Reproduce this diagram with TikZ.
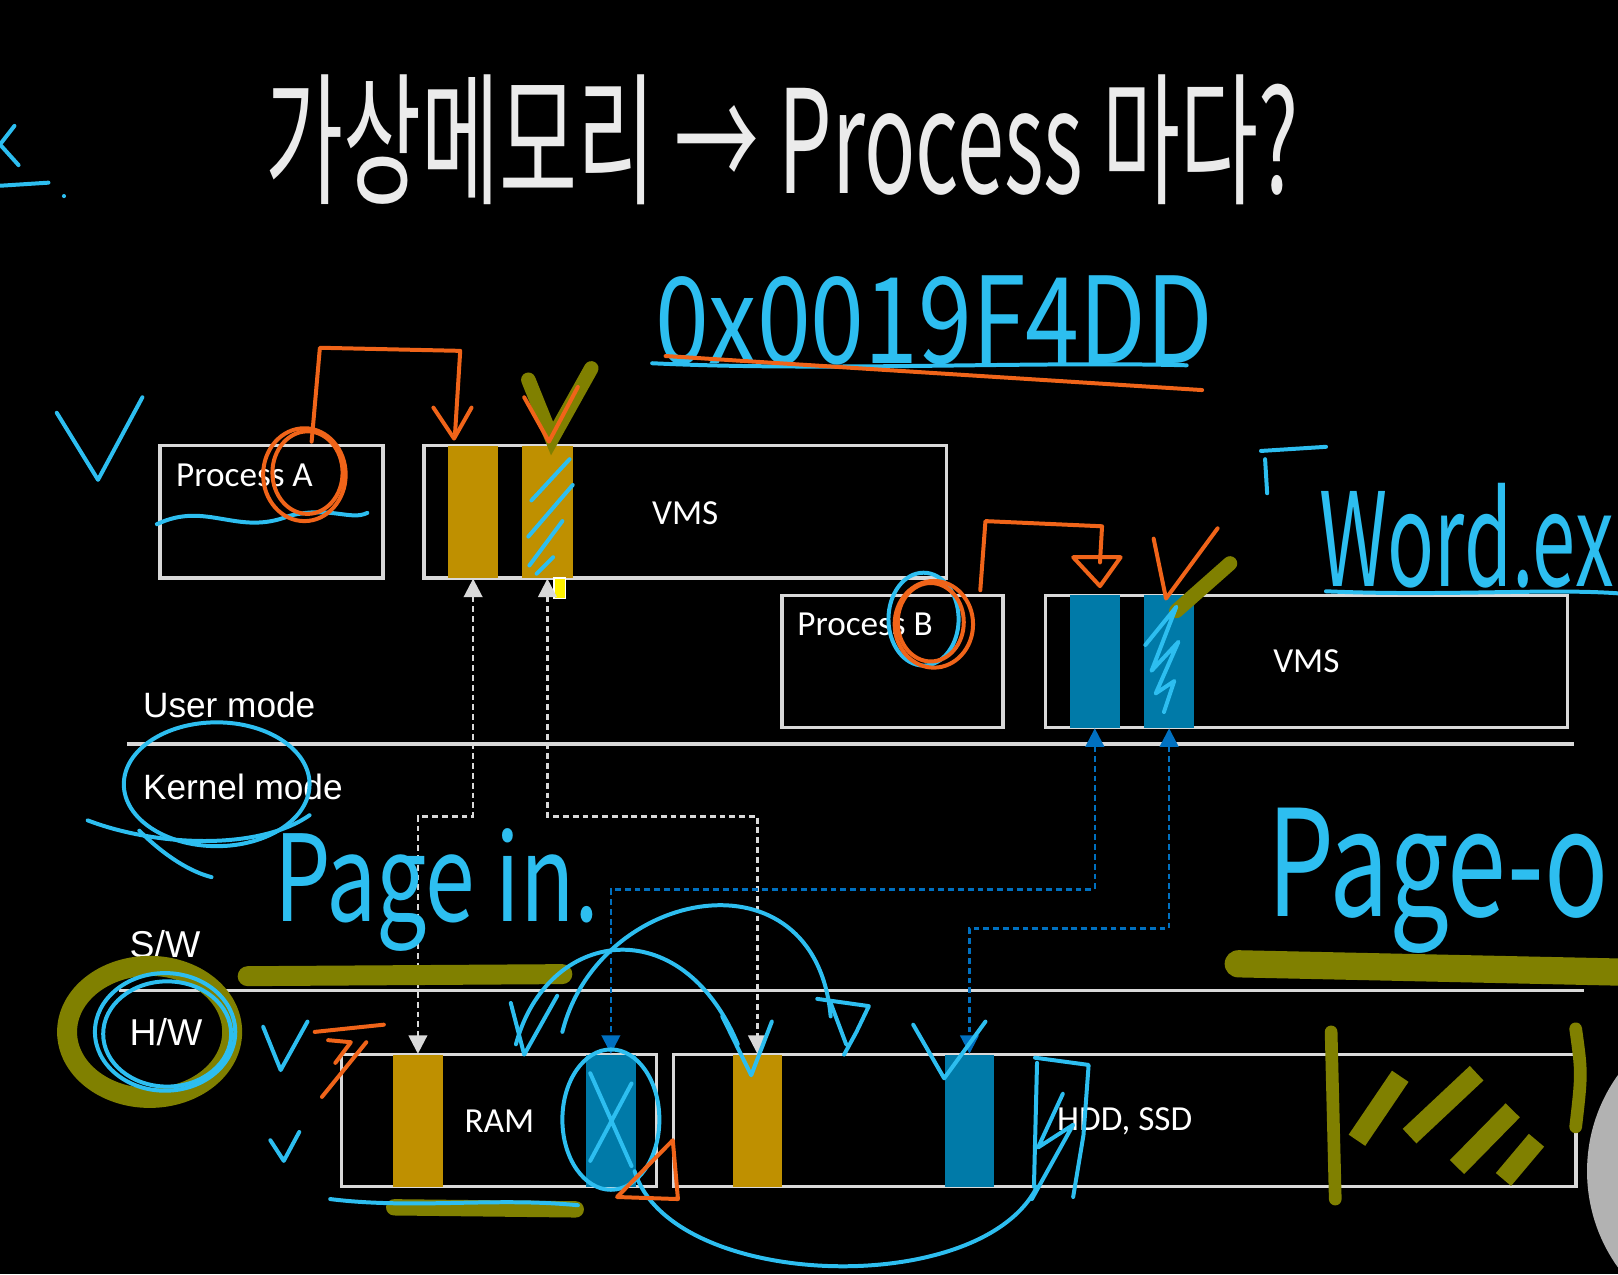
\documentclass[tikz,border=0pt]{standalone}
\usepackage{fontspec}
\setmainfont{Liberation Sans}
\newfontfamily\slidefont{Carlito}
\newfontfamily\handfont{Noto Sans CJK KR}
\usetikzlibrary{arrows.meta,positioning,calc}
\definecolor{slline}{RGB}{217,217,217}
\definecolor{slgold}{RGB}{191,144,0}
\definecolor{slblue}{RGB}{0,122,168}
\definecolor{sldash}{RGB}{0,112,192}
\definecolor{hdwhite}{RGB}{235,235,235}
\definecolor{hdcyan}{RGB}{45,190,240}
\definecolor{hdorange}{RGB}{240,100,25}
\definecolor{hdolive}{RGB}{128,128,0}
\tikzset{
  slbox/.style={draw=slline, line width=0.9pt, inner sep=0pt, minimum height=1.28cm},
  goldbar/.style={fill=slgold, inner sep=0pt, minimum width=0.49cm, minimum height=1.28cm},
  bluebar/.style={goldbar, fill=slblue},
  lbl/.style={text=white, font=\slidefont\fontsize{9.7}{11}\selectfont, inner sep=0pt},
  mode/.style={text=white, font=\fontsize{9.7}{11}\selectfont, inner sep=0pt, anchor=west},
  divider/.style={draw=slline, line width=0.9pt},
  warr/.style={{Triangle[length=1.8mm,width=1.8mm]}-{Triangle[length=1.8mm,width=1.8mm]},
    draw=slline, line width=0.7pt, dash pattern=on 1.6pt off 1.1pt},
  barr/.style={warr, draw=sldash},
  hand/.style={draw=hdcyan, line width=1.1pt, line cap=round, line join=round},
  ink/.style={hand, draw=hdorange},
  hl/.style={draw=hdolive, line width=5.5pt, line cap=round},
  htext/.style={inner sep=0pt, font=\handfont}
}

\begin{document}
\begin{tikzpicture}[x=0.01cm,y=-0.01cm]
  \useasboundingbox (0,0) rectangle (1568,1235);
  \fill[black] (0,0) rectangle (1568,1235);
  \fill[gray!60] (1698,1135) circle (160);

  % User mode: processes and their VMS
  \node[slbox, minimum width=2.16cm] (procA) at (263,496) {};
  \node[slbox, minimum width=5.06cm] (vmsA) at (664,496) {};
  \node[goldbar] (a1) at (458.5,496) {};
  \node[goldbar] (a2) at (530.5,496) {};
  \node[lbl, anchor=west] (procAtxt) at (170,461) {Process A};
  \node[lbl] (vmsAtxt) at (664,497) {VMS};

  \node[slbox, minimum width=2.14cm] (procB) at (865,641) {};
  \node[slbox, minimum width=5.06cm] (vmsB) at (1266,641) {};
  \node[bluebar] (b1) at (1061,641) {};
  \node[bluebar] (b2) at (1133,641) {};
  \node[lbl, anchor=west] (procBtxt) at (772,605) {Process B};
  \node[lbl] (vmsBtxt) at (1266,641) {VMS};

  \node[draw=white, fill=yellow, line width=0.5pt, inner sep=0pt,
    minimum width=0.11cm, minimum height=0.2cm] (cursor) at (542.5,570) {};

  % mode lines
  \draw[divider] (123,721) -- (1525,721);
  \draw[divider] (115,960) -- (1535,960);
  \node[mode] (user) at (138,683) {User mode};
  \node[mode] (kernel) at (138,763) {Kernel mode};
  \node[mode, font=\fontsize{10.3}{12}\selectfont] (sw) at (125,915) {S/W};
  \node[mode, font=\fontsize{10.3}{12}\selectfont] (hw) at (125,1000) {H/W};

  % H/W: RAM and disk
  \node[slbox, minimum width=3.05cm] (ram) at (483.5,1086) {};
  \node[slbox, minimum width=8.74cm] (hdd) at (1090,1086) {};
  \node[goldbar, minimum width=0.48cm] (rg) at (405,1086) {};
  \node[bluebar, minimum width=0.48cm] (rb) at (592,1086) {};
  \node[goldbar, minimum width=0.48cm] (hg) at (734,1086) {};
  \node[bluebar, minimum width=0.47cm] (hb) at (939.5,1086) {};
  \node[lbl] (ramtxt) at (484,1087) {RAM};
  \node[lbl] (hddtxt) at (1090,1087) {HDD, SSD};

  \coordinate (lvA) at (0,791);
  \coordinate (lvB) at (0,862);
  \coordinate (lvC) at (0,900);
  \draw[warr] (a1.south) -- (a1.south |- lvA) -| (rg.north);
  \draw[warr] (a2.south) -- (a2.south |- lvA) -| (hg.north);
  \draw[barr] (b1.south) -- (b1.south |- lvB) -| (rb.north);
  \draw[barr] (b2.south) -- (b2.south |- lvC) -| (hb.north);

  % highlighter
  \draw[hl] (240,946) -- (545,944);
  \draw[hl, line width=7.5pt] (1200,934) -- (1568,942);
  \draw[hl] (145,1000) ellipse [x radius=80, y radius=64];
  \draw[hl, line width=4.5pt] (382,1170) -- (558,1172);
  \draw[hl, line width=4pt] (512,368) -- (535,425) -- (573,357);
  \draw[hl, line width=4pt] (1140,592) -- (1192,546);
  \draw[hl, line width=3.5pt] (1290,1000) -- (1294,1162);
  \draw[hl, line width=3.5pt] (1527,997) .. controls (1533,1040) .. (1527,1092);
  \draw[hl, line cap=butt] (1315,1105) -- (1357,1043);
  \draw[hl, line cap=butt] (1366,1101) -- (1431,1040);
  \draw[hl, line cap=butt] (1412,1131) -- (1466,1076);
  \draw[hl, line cap=butt] (1457,1143) -- (1489,1105);

  % handwriting
  \node[htext, text=hdwhite] (title) at (758,135)
    {\resizebox{10cm}{1.15cm}{가상메모리 → Process 마다?}};
  \node[htext, text=hdcyan] (hex) at (905,310)
    {\resizebox{5.4cm}{0.85cm}{0x0019F4DD}};
  \draw[hand] (632,352) .. controls (800,360) and (1000,350) .. (1150,354);
  \draw[ink] (645,345) -- (1165,378);
  \node[htext, text=hdcyan, anchor=base west] (word) at (1278,568)
    {\resizebox{2.85cm}{1.0cm}{Word.ex}};
  \draw[hand] (1285,573) .. controls (1400,578) and (1500,570) .. (1568,575);
  \draw[hand] (1222,437) -- (1285,433) (1226,445) -- (1228,478);
  \node[htext, text=hdcyan, anchor=base west] (pin) at (265,893)
    {\resizebox{3.15cm}{0.9cm}{Page in.}};
  \node[htext, text=hdcyan, anchor=base west] (pout) at (1228,888)
    {\resizebox{3.3cm}{1.05cm}{Page-o}};

  \draw[hand] (14,122) -- (0,140) -- (18,160);
  \draw[hand] (0,180) -- (47,177);
  \fill[hdcyan] (62,190) circle (2);
  \draw[hand] (55,400) -- (95,465) -- (138,385);
  \draw[hand] (152,508) .. controls (200,485) and (230,520) .. (280,500)
    .. controls (320,490) and (340,505) .. (356,497);
  \draw[hand] (513,548) -- (545,505) (512,520) -- (555,470)
    (515,485) -- (552,445) (520,556) -- (536,540);
  \draw[hand] (1110,625) -- (1140,588) -- (1116,650) -- (1142,622)
    -- (1120,672) -- (1138,660) -- (1128,690);
  \draw[hand] (895,600) ellipse [x radius=34, y radius=45];
  \draw[hand] (210,760) ellipse [x radius=90, y radius=60];
  \draw[hand] (85,795) .. controls (150,820) and (250,825) .. (300,790);
  \draw[hand] (135,805) .. controls (160,830) and (185,845) .. (205,850);
  \draw[hand] (160,1000) ellipse [x radius=68, y radius=57];
  \draw[hand] (162,1002) ellipse [x radius=62, y radius=51];
  \draw[hand] (255,995) -- (272,1037) -- (298,990);
  \draw[hand] (262,1105) -- (275,1125) -- (290,1097);
  \draw[hand] (320,1162) .. controls (400,1172) and (480,1160) .. (560,1168);
  \draw[hand] (592,1085) ellipse [x radius=47, y radius=68];
  \draw[hand] (572,1040) -- (612,1130) (612,1050) -- (572,1125);
  \draw[hand] (495,972) -- (508,1022) -- (540,965);
  \draw[hand] (545,1000) .. controls (580,860) and (790,820) .. (805,985);
  \draw[hand] (500,1012) .. controls (530,900) and (660,880) .. (715,1012);
  \draw[hand] (792,968) -- (842,975) -- (830,1000) -- (818,1022) (805,972) -- (820,1012);
  \draw[hand] (700,985) -- (728,1042) -- (748,990);
  \draw[hand] (885,993) -- (915,1045) -- (955,990);
  \draw[hand] (615,1135) .. controls (650,1250) and (950,1260) .. (1005,1150);
  \draw[hand] (1003,1025) -- (1055,1032) -- (1050,1100) -- (1040,1160);
  \draw[hand] (1005,1030) -- (1002,1150);
  \draw[hand] (1030,1060) -- (1006,1112) -- (1040,1090) -- (1000,1162);

  \draw[ink] (295,460) ellipse [x radius=40, y radius=45];
  \draw[ink] (298,458) ellipse [x radius=34, y radius=40];
  \draw[ink] (302,428) -- (310,337) -- (446,340) -- (441,420);
  \draw[ink] (420,395) -- (440,425) -- (457,395);
  \draw[ink] (905,605) ellipse [x radius=38, y radius=42];
  \draw[ink] (902,603) ellipse [x radius=32, y radius=38];
  \draw[ink] (950,572) -- (955,505) -- (1068,510) -- (1066,545);
  \draw[ink] (1040,540) -- (1086,540) -- (1066,568) -- cycle;
  \draw[ink] (508,385) -- (532,428) -- (560,375);
  \draw[ink] (1118,522) -- (1130,580) -- (1180,512);
  \draw[ink] (305,1000) -- (372,993) (318,1008) -- (340,1010) -- (325,1030)
    (312,1063) -- (355,1010);
  \draw[ink] (652,1105) -- (598,1160) -- (657,1162) -- cycle;
\end{tikzpicture}
\end{document}
